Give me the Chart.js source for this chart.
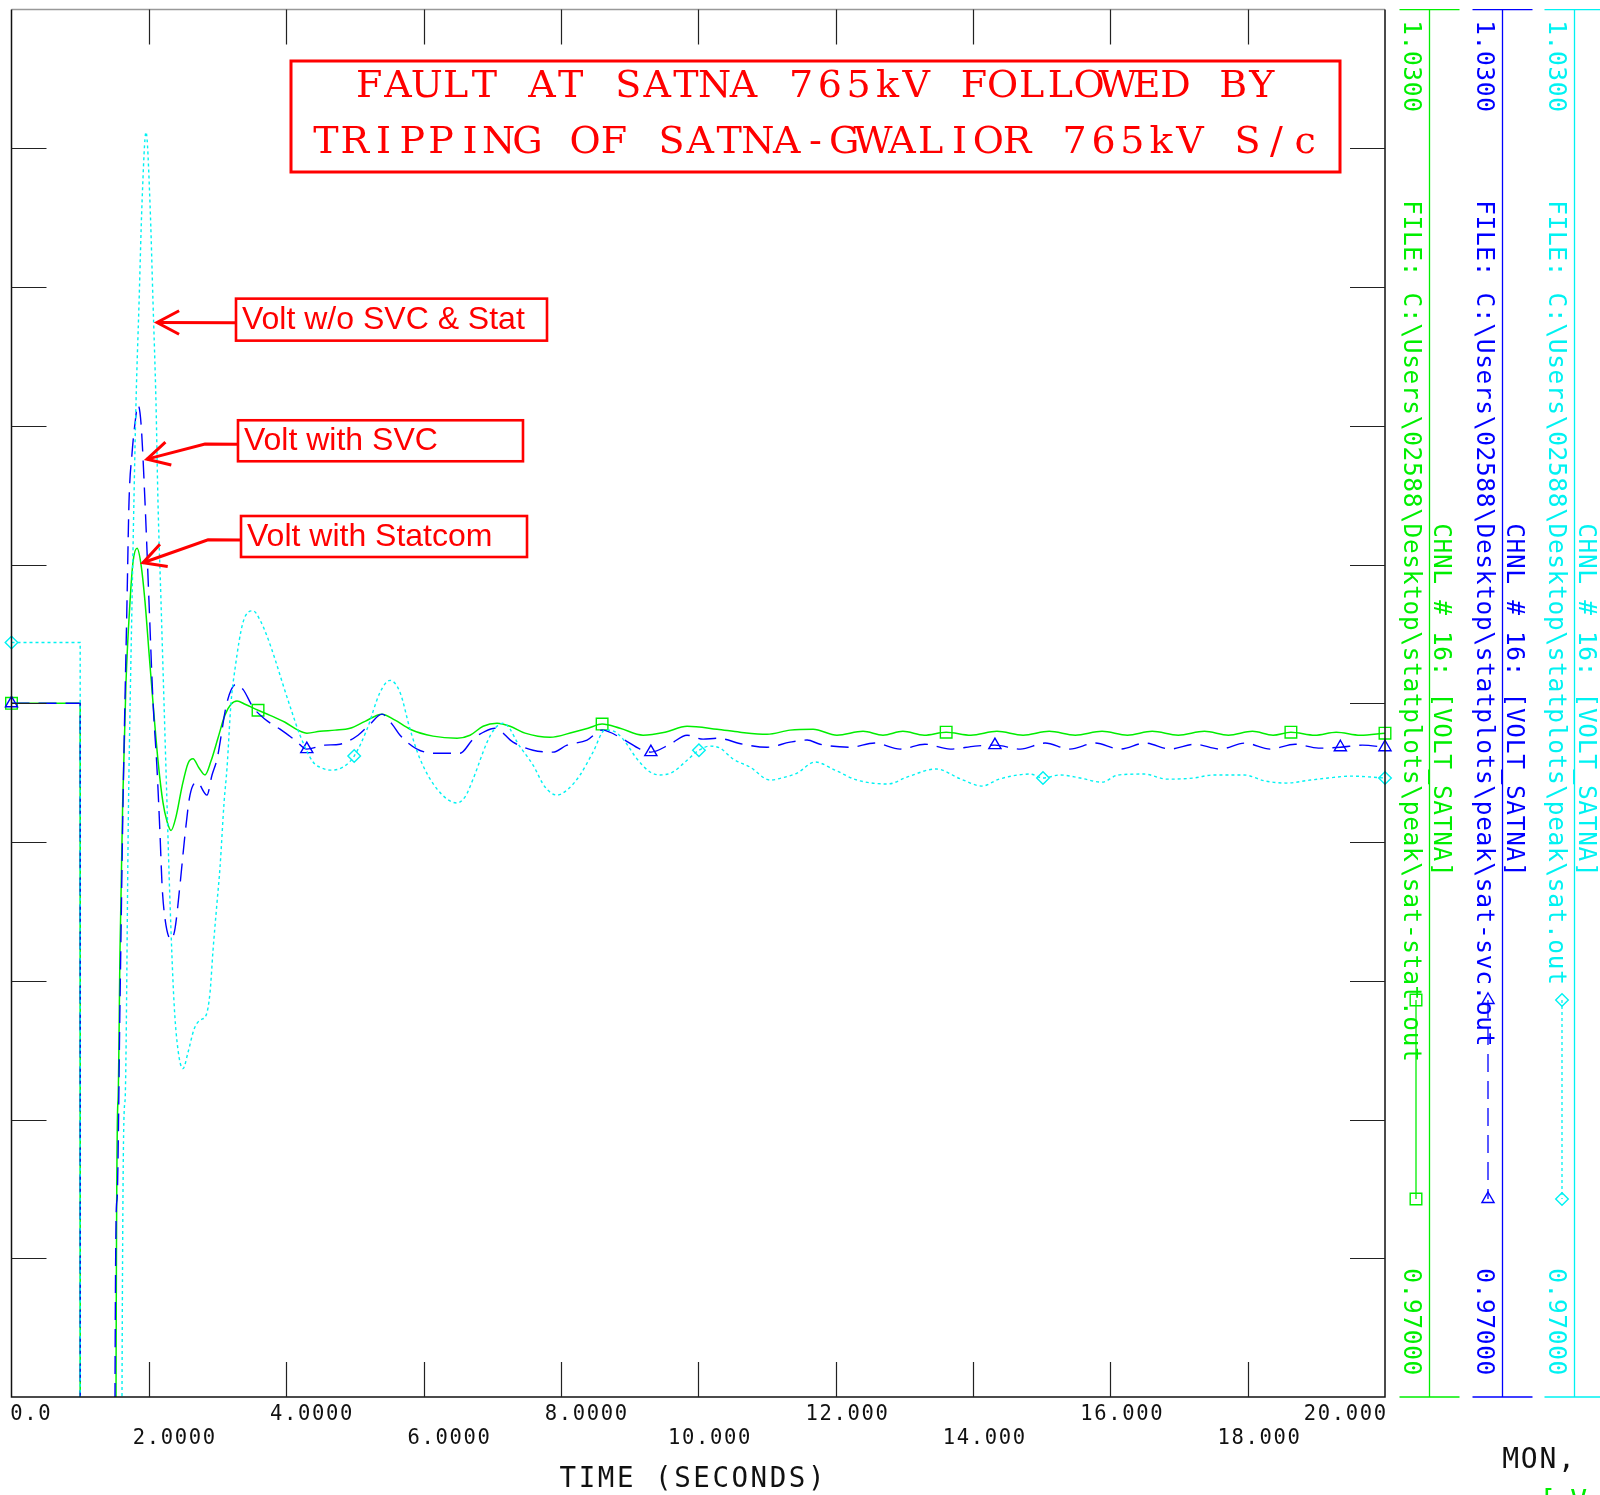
<!DOCTYPE html>
<html>
<head>
<meta charset="utf-8">
<script src="https://cdn.jsdelivr.net/npm/chart.js@4.4.1/dist/chart.umd.min.js"></script>
<style>
  html, body { margin: 0; padding: 0; background: #fff; overflow: hidden; }
  canvas { display: block; }
</style>
</head>
<body>
<canvas id="plot" width="1600" height="1495"></canvas>
<script>
// ---- Bus voltage at SATNA 765kV (pu) vs time (s) ----

// With STATCOM (sat-stat.out)
const statcomT = [0, 1.0, 1.002, 1.50, 1.522, 1.551, 1.580, 1.619, 1.667, 1.726, 1.769, 1.828, 1.886, 1.944, 2.002, 2.061, 2.134, 2.206, 2.264, 2.323, 2.396, 2.483, 2.570, 2.643, 2.731, 2.818, 2.905, 3.007, 3.109, 3.196, 3.284, 3.400, 3.59, 3.765, 3.983, 4.172, 4.303, 4.492, 4.711, 4.929, 5.148, 5.395, 5.585, 5.803, 6.138, 6.488, 6.677, 6.867, 7.070, 7.260, 7.478, 7.842, 8.177, 8.395, 8.60, 8.861, 9.196, 9.516, 9.837, 10.274, 10.609, 11.002, 11.337, 11.672, 12.02, 12.40, 12.69, 12.98, 13.29, 13.61, 13.97, 14.35, 14.73, 15.11, 15.49, 15.88, 16.25, 16.61, 16.99, 17.37, 17.72, 18.07, 18.37, 18.63, 18.98, 19.29, 19.64, 20.0];
const statcomV = [1.0, 1.0, 0.45, 0.45, 0.9700, 0.9828, 0.9893, 0.9957, 1.0009, 1.0044, 1.0061, 1.0067, 1.0060, 1.0044, 1.0022, 1.0000, 0.9975, 0.9957, 0.9949, 0.9945, 0.9951, 0.9964, 0.9974, 0.9976, 0.9972, 0.9969, 0.9975, 0.9985, 0.9995, 0.99996, 1.0001, 0.99996, 0.9997, 0.99948, 0.99918, 0.99884, 0.99871, 0.99879, 0.99884, 0.99892, 0.99922, 0.99953, 0.99927, 0.99888, 0.99858, 0.99849, 0.99862, 0.99901, 0.99914, 0.99901, 0.99871, 0.99853, 0.99875, 0.99892, 0.99910, 0.99892, 0.99862, 0.99875, 0.99901, 0.99888, 0.99875, 0.99866, 0.99884, 0.99888, 0.99862, 0.99879, 0.99862, 0.99879, 0.99862, 0.99875, 0.99862, 0.99879, 0.99862, 0.99879, 0.99862, 0.99879, 0.99862, 0.99879, 0.99862, 0.99879, 0.99862, 0.99879, 0.99862, 0.99875, 0.99862, 0.99875, 0.99862, 0.99871];

// With SVC (sat-svc.out)
const svcT = [0, 1.0, 1.002, 1.49, 1.507, 1.536, 1.580, 1.624, 1.682, 1.711, 1.755, 1.798, 1.842, 1.886, 1.944, 2.002, 2.061, 2.119, 2.163, 2.192, 2.235, 2.323, 2.381, 2.454, 2.526, 2.599, 2.701, 2.846, 2.920, 2.993, 3.138, 3.269, 3.371, 3.517, 3.692, 3.910, 4.128, 4.30, 4.565, 4.783, 5.046, 5.221, 5.395, 5.541, 5.658, 5.905, 6.167, 6.531, 6.721, 6.896, 7.041, 7.303, 7.594, 7.885, 8.089, 8.381, 8.599, 8.905, 9.152, 9.31, 9.589, 9.837, 10.070, 10.274, 10.652, 11.002, 11.337, 11.585, 11.774, 12.21, 12.57, 12.94, 13.30, 13.67, 14.03, 14.32, 14.69, 15.05, 15.41, 15.78, 16.14, 16.51, 16.87, 17.23, 17.60, 17.96, 18.33, 18.69, 19.03, 19.35, 19.67, 20.0];
const svcV = [1.0, 1.0, 0.45, 0.45, 0.9700, 0.9785, 0.9871, 0.9957, 1.0044, 1.0087, 1.0108, 1.0121, 1.0129, 1.0121, 1.0087, 1.0044, 1.00004, 0.99716, 0.99431, 0.99216, 0.99069, 0.98979, 0.99026, 0.99216, 0.99431, 0.99603, 0.99659, 0.99603, 0.99690, 0.99759, 1.00004, 1.00082, 1.0006, 0.99983, 0.99931, 0.99888, 0.99841, 0.99802, 0.99819, 0.99823, 0.99862, 0.99910, 0.99953, 0.99910, 0.99862, 0.99802, 0.99784, 0.99784, 0.99845, 0.99879, 0.99892, 0.99832, 0.99797, 0.99789, 0.99819, 0.99841, 0.99884, 0.99845, 0.99802, 0.99789, 0.99823, 0.99862, 0.99845, 0.99849, 0.99823, 0.99810, 0.99832, 0.99841, 0.99823, 0.99810, 0.99828, 0.99802, 0.99823, 0.99802, 0.99815, 0.99819, 0.99802, 0.99828, 0.99802, 0.99828, 0.99802, 0.99828, 0.99802, 0.99823, 0.99802, 0.99828, 0.99802, 0.99823, 0.99806, 0.99810, 0.99819, 0.99810];

// Without SVC & STATCOM (sat.out)
const baseT = [0, 1.0, 1.002, 1.58, 1.609, 1.653, 1.704, 1.755, 1.813, 1.857, 1.900, 1.959, 2.017, 2.061, 2.104, 2.133, 2.177, 2.221, 2.264, 2.308, 2.366, 2.425, 2.497, 2.570, 2.658, 2.745, 2.832, 2.891, 2.934, 2.993, 3.036, 3.095, 3.138, 3.196, 3.255, 3.371, 3.517, 3.619, 3.721, 3.838, 3.954, 4.085, 4.201, 4.391, 4.522, 4.638, 4.827, 4.99, 5.177, 5.366, 5.512, 5.658, 5.803, 5.949, 6.197, 6.488, 6.604, 6.721, 6.925, 7.041, 7.158, 7.260, 7.362, 7.594, 7.769, 7.944, 8.104, 8.279, 8.468, 8.643, 8.774, 8.905, 9.109, 9.298, 9.443, 9.633, 9.808, 10.01, 10.172, 10.318, 10.507, 10.754, 11.046, 11.264, 11.439, 11.700, 11.991, 12.312, 12.764, 13.040, 13.463, 13.827, 14.133, 14.380, 14.832, 15.02, 15.268, 15.56, 15.880, 16.113, 16.492, 16.827, 17.220, 17.497, 17.948, 18.254, 18.560, 18.910, 19.172, 19.507, 20.0];
const baseV = [1.00263, 1.00263, 0.45, 0.45, 0.9700, 0.9828, 0.9957, 1.0044, 1.0130, 1.0173, 1.0216, 1.0247, 1.0216, 1.0173, 1.0130, 1.0087, 1.0044, 1.0000, 0.9957, 0.9914, 0.9871, 0.9850, 0.9842, 0.9849, 0.9859, 0.9863, 0.9865, 0.9875, 0.9893, 0.9914, 0.9929, 0.9957, 0.9972, 1.0000, 1.0015, 1.0035, 1.0040, 1.0036, 1.0029, 1.0019, 1.0008, 0.99961, 0.99862, 0.99746, 0.99720, 0.99711, 0.99724, 0.99772, 0.99888, 1.00047, 1.00099, 1.00047, 0.99888, 0.99759, 0.99629, 0.99569, 0.99595, 0.99672, 0.99832, 0.99892, 0.99914, 0.99888, 0.99832, 0.99733, 0.99638, 0.99603, 0.99629, 0.99690, 0.99789, 0.99884, 0.99879, 0.99845, 0.99759, 0.99703, 0.99690, 0.99703, 0.99746, 0.99797, 0.99815, 0.99806, 0.99759, 0.99724, 0.99668, 0.99681, 0.99698, 0.99746, 0.99711, 0.99668, 0.99651, 0.99681, 0.99716, 0.99672, 0.99642, 0.99672, 0.99694, 0.99677, 0.99690, 0.99677, 0.99659, 0.99690, 0.99694, 0.99672, 0.99677, 0.99690, 0.99690, 0.99664, 0.99655, 0.99668, 0.99677, 0.99685, 0.99677];

// Times at which each curve carries its plot symbol
const statcomMarkT = [0, 3.59, 8.60, 13.61, 18.63, 20.0];
const svcMarkT = [0, 4.30, 9.31, 14.32, 19.35, 20.0];
const baseMarkT = [0, 4.99, 10.01, 15.02, 20.0];

// Axis ticks
const xTickVals = [0, 2, 4, 6, 8, 10, 12, 14, 16, 18, 20];
const xTickLabels = ['0.0', '2.0000', '4.0000', '6.0000', '8.0000', '10.000', '12.000', '14.000', '16.000', '18.000', '20.000'];
const yTickVals = [0.976, 0.982, 0.988, 0.994, 1.000, 1.006, 1.012, 1.018, 1.024];
const chanTopLabel = '1.0300';
const chanBottomLabel = '0.97000';

const titleLines = ['FAULT AT SATNA 765kV FOLLOWED BY', 'TRIPPING OF SATNA-GWALIOR 765kV S/c'];
const xTitle = 'TIME (SECONDS)';

const GREEN = '#00ee00', BLUE = '#0000ff', CYAN = '#00f2f2', RED = '#ff0000', INK = '#111';
const MONO = "'DejaVu Sans Mono', 'Liberation Mono', monospace";

// Channel legend columns on the right
const channels = [
  { line: 1429.5, color: GREEN, file: 'FILE: C:\\Users\\02588\\Desktop\\statplots\\peak\\sat-stat.out', style: 'rect', radius: 8.2, dash: [], mx: 1416 },
  { line: 1502.5, color: BLUE,  file: 'FILE: C:\\Users\\02588\\Desktop\\statplots\\peak\\sat-svc.out',  style: 'triangle', radius: 7, dash: [18, 9], mx: 1488 },
  { line: 1574.5, color: CYAN,  file: 'FILE: C:\\Users\\02588\\Desktop\\statplots\\peak\\sat.out',      style: 'rectRot', radius: 6.3, dash: [3, 3], mx: 1562 }
];
const chanText = 'CHNL # 16: [VOLT_SATNA]';

// Call-outs: arrow tip / elbow / box corner in (time, pu)
const notes = [
  { text: 'Volt w/o SVC & Stat', tip: [2.119, 1.01647], elbow: null,            box: [3.269, 1.0175],  w: 311, h: 42 },
  { text: 'Volt with SVC',       tip: [1.973, 1.01056], elbow: [2.818, 1.01121], box: [3.298, 1.01224], w: 285, h: 41 },
  { text: 'Volt with Statcom',   tip: [1.915, 1.00608], elbow: [2.862, 1.00707], box: [3.342, 1.0081],  w: 286, h: 41 }
];

function pts(ts, vs) { return ts.map((t, i) => ({ x: t, y: vs[i] })); }
function markRadius(list, r) {
  return ctx => (ctx.raw && list.some(m => Math.abs(m - ctx.raw.x) < 1e-6)) ? r : 0;
}

// Fixed-pitch text, optionally turned 90 degrees clockwise
function mono(ctx, str, x, y, pitch, size, color, rotated, family) {
  ctx.save();
  ctx.translate(x, y);
  if (rotated) ctx.rotate(Math.PI / 2);
  ctx.font = size + 'px ' + (family || MONO);
  ctx.fillStyle = color;
  ctx.textAlign = 'center';
  ctx.textBaseline = 'alphabetic';
  for (let i = 0; i < str.length; i++) {
    if (str[i] !== ' ') ctx.fillText(str[i], i * pitch + pitch * 0.36, 0);
  }
  ctx.restore();
}

function symbol(ctx, style, r, x, y, color) {
  ctx.save();
  ctx.strokeStyle = color;
  ctx.fillStyle = 'rgba(0,0,0,0)';
  ctx.lineWidth = 1.4;
  ctx.setLineDash([]);
  Chart.helpers.drawPoint(ctx, { pointStyle: style, radius: r, rotation: 0, borderWidth: 1.4 }, x, y);
  ctx.restore();
}

function arrowHead(ctx, tx, ty, fromX, fromY) {
  const ang = Math.atan2(fromY - ty, fromX - tx);
  const L = 25, spread = 28 * Math.PI / 180;
  ctx.beginPath();
  ctx.moveTo(tx + L * Math.cos(ang - spread), ty + L * Math.sin(ang - spread));
  ctx.lineTo(tx, ty);
  ctx.lineTo(tx + L * Math.cos(ang + spread), ty + L * Math.sin(ang + spread));
  ctx.stroke();
}

const decor = {
  id: 'decor',
  beforeDraw(chart) {
    const c = chart.ctx;
    c.save();
    c.fillStyle = '#fff';
    c.fillRect(0, 0, chart.width, chart.height);
    c.restore();
  },
  afterDatasetsDraw(chart) {
    const c = chart.ctx;
    const a = chart.chartArea;
    const xs = chart.scales.x, ys = chart.scales.y;
    c.save();

    // frame
    c.lineWidth = 1.5;
    c.strokeStyle = '#999';
    c.beginPath(); c.moveTo(a.left, a.top); c.lineTo(a.right, a.top); c.stroke();
    c.strokeStyle = INK;
    c.beginPath();
    c.moveTo(a.left, a.top); c.lineTo(a.left, a.bottom); c.lineTo(a.right, a.bottom); c.lineTo(a.right, a.top);
    c.stroke();

    // inward ticks
    c.lineWidth = 1.2;
    c.strokeStyle = '#222';
    const TL = 35;
    xTickVals.forEach(t => {
      if (t <= xs.min || t >= xs.max) return;
      const px = Math.round(xs.getPixelForValue(t)) + 0.5;
      c.beginPath();
      c.moveTo(px, a.top); c.lineTo(px, a.top + TL);
      c.moveTo(px, a.bottom); c.lineTo(px, a.bottom - TL);
      c.stroke();
    });
    yTickVals.forEach(v => {
      const py = Math.round(ys.getPixelForValue(v)) + 0.5;
      c.beginPath();
      c.moveTo(a.left, py); c.lineTo(a.left + TL, py);
      c.moveTo(a.right, py); c.lineTo(a.right - TL, py);
      c.stroke();
    });

    // x tick labels, decimal point under the tick, alternating rows
    const pitch = 14, gw = 10;
    xTickVals.forEach((t, i) => {
      const s = xTickLabels[i];
      const px = xs.getPixelForValue(t);
      const k = s.indexOf('.');
      const w = (s.length - 1) * pitch + gw;
      let start = px - k * pitch - 1;
      if (start < a.left) start = a.left;
      if (start + w > a.right) start = a.right - w;
      const base = (i % 2 === 0) ? 1420 : 1444;
      mono(c, s, start, base, pitch, 20.5, INK, false);
    });
    mono(c, xTitle, 561, 1487, 19.1, 27.5, INK, false);
    mono(c, 'MON,', 1504, 1468, 18.6, 28, INK, false);
    mono(c, '[ V', 1542, 1510, 15.5, 28, GREEN, false);

    // channel scales on the right
    channels.forEach(ch => {
      c.strokeStyle = ch.color;
      c.lineWidth = 1.3;
      c.setLineDash([]);
      c.beginPath();
      c.moveTo(ch.line, a.top); c.lineTo(ch.line, a.bottom);
      c.moveTo(ch.line - 30, a.top); c.lineTo(ch.line + 30, a.top);
      c.moveTo(ch.line - 30, a.bottom); c.lineTo(ch.line + 30, a.bottom);
      c.stroke();
      mono(c, chanTopLabel, ch.line - 26, 22, 15.4, 24.5, ch.color, true);
      mono(c, ch.file, ch.line - 26, 202, 15.4, 24.5, ch.color, true);
      mono(c, chanText, ch.line + 4, 525, 15.4, 24.5, ch.color, true);
      mono(c, chanBottomLabel, ch.line - 26, 1270, 15.4, 24.5, ch.color, true);
      // sample of the curve's line style and symbol
      c.strokeStyle = ch.color;
      c.lineWidth = 1.3;
      c.setLineDash(ch.dash);
      c.beginPath(); c.moveTo(ch.mx, 1000); c.lineTo(ch.mx, 1199); c.stroke();
      c.setLineDash([]);
      symbol(c, ch.style, ch.radius, ch.mx, 1000, ch.color);
      symbol(c, ch.style, ch.radius, ch.mx, 1199, ch.color);
    });

    // call-outs
    c.strokeStyle = RED;
    c.fillStyle = RED;
    c.setLineDash([]);
    notes.forEach(n => {
      const tx = xs.getPixelForValue(n.tip[0]), ty = ys.getPixelForValue(n.tip[1]);
      const bx = xs.getPixelForValue(n.box[0]), by = ys.getPixelForValue(n.box[1]);
      const tailY = by + 24;
      c.lineWidth = 3;
      c.beginPath();
      c.moveTo(bx, tailY);
      let fx = bx, fy = tailY;
      if (n.elbow) {
        const ex = xs.getPixelForValue(n.elbow[0]), ey = ys.getPixelForValue(n.elbow[1]);
        c.lineTo(ex, ey);
        fx = ex; fy = ey;
      }
      c.lineTo(tx, ty);
      c.stroke();
      arrowHead(c, tx, ty, fx, fy);
      c.lineWidth = 2.6;
      c.strokeRect(bx, by, n.w, n.h);
      c.font = "32px 'Liberation Sans', Arial, sans-serif";
      c.textAlign = 'left';
      c.textBaseline = 'alphabetic';
      c.fillText(n.text, bx + 6, by + 30);
    });

    // title box
    c.lineWidth = 3;
    c.strokeRect(291, 61, 1049, 111);
    const cx = 815.5, tp = 28.8;
    [[titleLines[0], 97], [titleLines[1], 153]].forEach(([s, base]) => {
      const start = cx - ((s.length - 1) / 2) * tp - tp * 0.36;
      mono(c, s, start, base, tp, 38, RED, false, "'DejaVu Serif', 'Liberation Serif', serif");
    });

    c.restore();
  }
};

const common = {
  showLine: true,
  fill: false,
  borderWidth: 1.4,
  cubicInterpolationMode: 'monotone',
  pointBackgroundColor: 'rgba(0,0,0,0)',
  pointBorderWidth: 1.4,
  pointHoverRadius: 0,
  clip: { left: 12, right: 12, top: 0, bottom: 0 }
};

new Chart(document.getElementById('plot'), {
  type: 'line',
  data: {
    datasets: [
      Object.assign({}, common, {
        label: 'Volt w/o SVC & Stat',
        data: pts(baseT, baseV),
        borderColor: CYAN,
        pointBorderColor: CYAN,
        borderDash: [3, 3],
        pointStyle: 'rectRot',
        pointRadius: markRadius(baseMarkT, 6.3)
      }),
      Object.assign({}, common, {
        label: 'Volt with SVC',
        data: pts(svcT, svcV),
        borderColor: BLUE,
        pointBorderColor: BLUE,
        borderDash: [18, 9],
        pointStyle: 'triangle',
        pointRadius: markRadius(svcMarkT, 7)
      }),
      Object.assign({}, common, {
        label: 'Volt with Statcom',
        data: pts(statcomT, statcomV),
        borderColor: GREEN,
        pointBorderColor: GREEN,
        borderWidth: 1.5,
        pointStyle: 'rect',
        pointRadius: markRadius(statcomMarkT, 8.2)
      })
    ]
  },
  options: {
    responsive: false,
    animation: false,
    devicePixelRatio: 1,
    events: [],
    layout: { padding: { left: 11.5, top: 5, right: 215, bottom: 98 } },
    plugins: { legend: { display: false }, tooltip: { enabled: false } },
    scales: {
      x: { type: 'linear', min: 0, max: 20, display: false },
      y: { type: 'linear', min: 0.97, max: 1.03, display: false }
    }
  },
  plugins: [decor]
});
</script>
</body>
</html>
